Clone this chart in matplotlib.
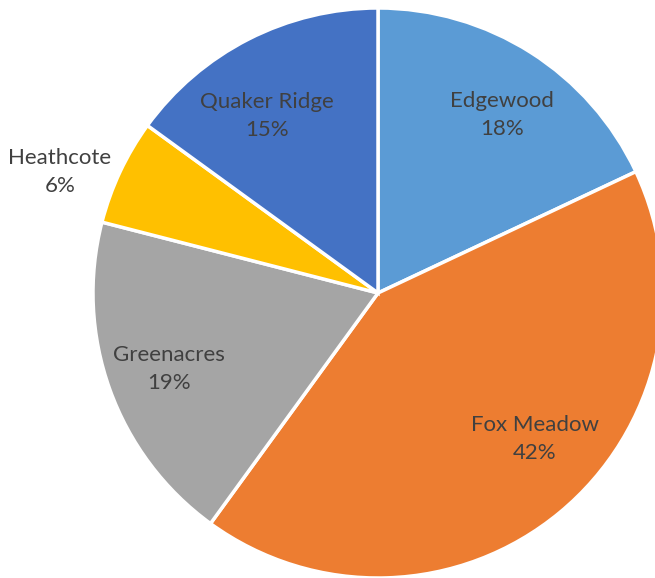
import matplotlib
matplotlib.use("Agg")
import matplotlib.pyplot as plt

schools = ["Edgewood", "Fox Meadow", "Greenacres", "Heathcote", "Quaker Ridge"]
shares = [18, 42, 19, 6, 15]
colors = ["#5B9BD5", "#ED7D31", "#A5A5A5", "#FFC000", "#4472C4"]

W, H = 655, 578
cx, cy, R = 378, 293, 285

# label centres (pixels) as placed in the original
label_px = [(502, 115), (535, 439), (169, 369), (60, 172), (267, 116)]

fig = plt.figure(figsize=(W / 100, H / 100), dpi=100)
ax = fig.add_axes([0, 0, 1, 1])

labels = [f"{s}\n{p}%" for s, p in zip(schools, shares)]
wedges, texts = ax.pie(shares, labels=labels, colors=colors, startangle=90,
                       counterclock=False, labeldistance=0.74,
                       wedgeprops=dict(edgecolor="white", linewidth=2.5),
                       textprops=dict(color="#404040", fontsize=16,
                                      family="Lato",
                                      ha="center", va="center",
                                      linespacing=1.5))

for t, (px, py) in zip(texts, label_px):
    t.set_position(((px - cx) / R, (cy - py) / R))

ax.set_xlim(-cx / R, (W - cx) / R)
ax.set_ylim(-(H - cy) / R, cy / R)
ax.set_aspect("auto")
ax.axis("off")

fig.savefig("out.png", dpi=100)
